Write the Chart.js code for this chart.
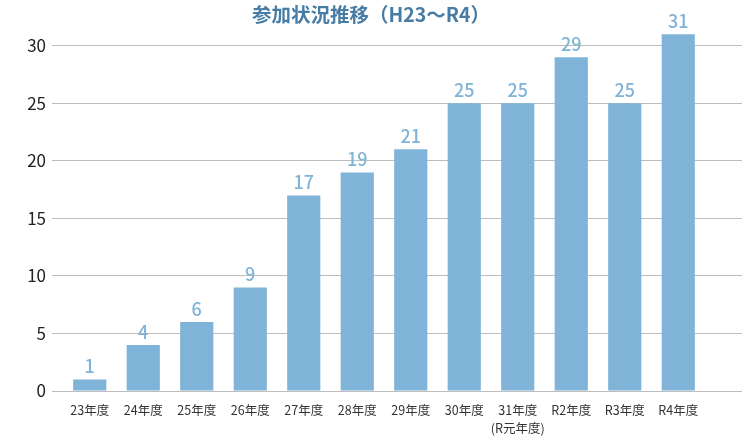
<!DOCTYPE html>
<html lang="ja">
<head>
  <meta charset="UTF-8" />
  <title>参加状況推移</title>
  <script src="https://cdn.jsdelivr.net/npm/chart.js"></script>
  <style>
    html, body { margin: 0; padding: 0; background: #fff; }
    .wrap { width: 742px; height: 440px; }
  </style>
</head>
<body>
  <div class="wrap"><canvas id="chart" width="742" height="440"></canvas></div>

  <script>
    const years = ['23年度', '24年度', '25年度', '26年度', '27年度', '28年度', '29年度', '30年度', ['31年度', '(R元年度)'], 'R2年度', 'R3年度', 'R4年度'];
    const counts = [1, 4, 6, 9, 17, 19, 21, 25, 25, 29, 25, 31];
    const yTicks = [0, 5, 10, 15, 20, 25, 30];

    const FONT = "'Noto Sans CJK JP', 'Noto Sans', sans-serif";
    const BAR = '#7fb4d8';
    const GRID = '#bdbdbd';

    // numbers above each bar
    const valueLabels = {
      id: 'valueLabels',
      afterDatasetsDraw(chart) {
        const ctx = chart.ctx;
        ctx.save();
        ctx.font = '500 18px ' + FONT;
        ctx.fillStyle = BAR;
        ctx.textAlign = 'center';
        ctx.textBaseline = 'bottom';
        chart.getDatasetMeta(0).data.forEach((bar, i) => {
          ctx.fillText(counts[i], bar.x, bar.y - 4);
        });
        ctx.restore();
      }
    };

    const keepTicks = scale => {
      scale.ticks = yTicks.map(v => ({ value: v }));
    };

    new Chart(document.getElementById('chart'), {
      type: 'bar',
      data: {
        labels: years,
        datasets: [{
          data: counts,
          backgroundColor: BAR,
          barPercentage: 0.62,
          categoryPercentage: 1
        }]
      },
      options: {
        responsive: false,
        animation: false,
        layout: { padding: 0 },
        plugins: {
          legend: { display: false },
          tooltip: { enabled: false },
          title: {
            display: true,
            text: '参加状況推移（H23〜R4）',
            color: '#477ca5',
            font: { family: FONT, size: 19.5, weight: 'bold', lineHeight: 1.2 },
            padding: { top: 3, bottom: 1 }
          }
        },
        scales: {
          x: {
            grid: { display: false, drawTicks: false },
            border: { display: false },
            afterFit: s => { s.height = 49; },
            ticks: {
              color: '#333',
              padding: 10,
              maxRotation: 0,
              autoSkip: false,
              font: { family: FONT, size: 12.5, lineHeight: 1.45 }
            }
          },
          y: {
            min: 0,
            max: 31.6,
            afterBuildTicks: keepTicks,
            afterFit: s => { s.width = 63; },
            border: { display: false },
            grid: { color: GRID, lineWidth: 1, drawTicks: true, tickLength: 11, tickColor: GRID },
            ticks: {
              color: '#222',
              padding: 6,
              font: { family: FONT, size: 17 }
            }
          },
          yRight: {
            position: 'right',
            min: 0,
            max: 31.6,
            afterBuildTicks: keepTicks,
            afterFit: s => { s.width = 37; },
            border: { display: false },
            grid: { color: GRID, lineWidth: 1, tickLength: 37 },
            ticks: { display: false }
          }
        }
      },
      plugins: [valueLabels]
    });
  </script>
</body>
</html>
